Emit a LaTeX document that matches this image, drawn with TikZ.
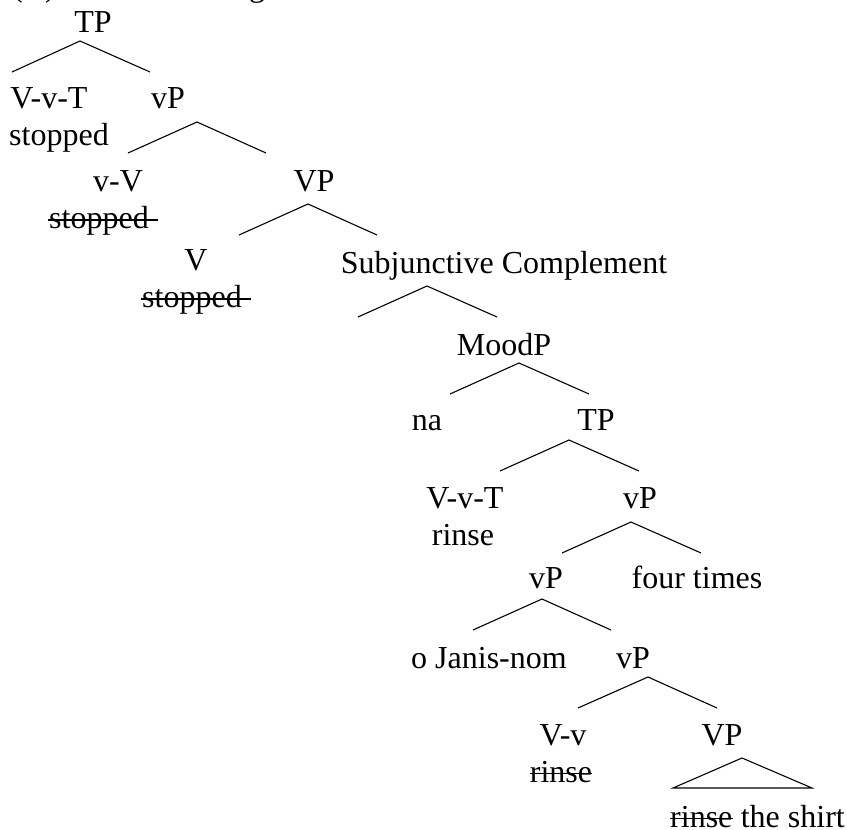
\documentclass[tikz,border=0pt]{standalone}
\usepackage{fontspec}
\setmainfont{Liberation Serif}
\begin{document}
\begin{tikzpicture}[x=1pt,y=-1pt,
  lbl/.style={inner sep=0pt,anchor=base,font=\fontsize{32}{38}\selectfont},
  lblw/.style={lbl,anchor=base west},
  branch/.style={line width=1.1pt},
  strike/.style={line width=1.1pt}]
\useasboundingbox (0,0) rectangle (847,830);

% clipped heading line above the tree: only its descenders remain
\begin{scope}
  \clip (0,0) rectangle (847,3.5);
  \node[lblw] (hdl) at (12,-3.5) {(};
  \node[lblw] (hdr) at (45,-3.5) {)};
  \node[lblw] (hdg) at (249,-4) {g};
\end{scope}

% labels
\node[lbl] (tp1)   at (93,32)  {TP};
\node[lbl] (vvt1)  at (49,108) {V-v-T};
\node[lbl] (stp1)  at (59,145) {stopped};
\node[lbl] (vp1)   at (168,108) {vP};
\node[lbl] (vv)    at (118,191) {v-V};
\node[lbl] (stp2)  at (99,228) {stopped};
\node[lbl] (bigvp1) at (314,191) {VP};
\node[lbl] (v)     at (196,270) {V};
\node[lbl] (stp3)  at (192,307) {stopped};
\node[lbl] (subj)  at (504,273) {Subjunctive Complement};
\node[lbl] (mood)  at (504,355) {MoodP};
\node[lbl] (na)    at (427,430) {na};
\node[lbl] (tp2)   at (596,430) {TP};
\node[lbl] (vvt2)  at (465,508) {V-v-T};
\node[lbl] (rin1)  at (463,545) {rinse};
\node[lbl] (vp2)   at (640,508) {vP};
\node[lbl] (vp3)   at (546,588) {vP};
\node[lbl] (four)  at (697,588) {four times};
\node[lbl] (janis) at (489,668) {o Janis-nom};
\node[lbl] (vp4)   at (633,668) {vP};
\node[lbl] (vvl)   at (563,745) {V-v};
\node[lbl] (rin2)  at (561,782) {rinse};
\node[lbl] (bigvp2) at (722,745) {VP};
\node[lblw] (rin3) at (670,827) {rinse};
\node[lblw] (shirt) at (rin3.base east) {\ the shirt};

% struck-out copies
\draw[strike] ([yshift=8pt,xshift=-1pt]stp2.base west) -- ([yshift=8pt,xshift=9pt]stp2.base east);
\draw[strike] ([yshift=8pt,xshift=-1pt]stp3.base west) -- ([yshift=8pt,xshift=9pt]stp3.base east);
\draw[strike] ([yshift=8.5pt]rin2.base west) -- ([yshift=8.5pt]rin2.base east);
\draw[strike] ([yshift=8.5pt]rin3.base west) -- ([yshift=8.5pt]rin3.base east);

% branch points
\coordinate (a1) at (80,41);  \coordinate (l1) at (12,72);  \coordinate (r1) at (150,72);
\coordinate (a2) at (197,122); \coordinate (l2) at (128,153); \coordinate (r2) at (266,153);
\coordinate (a3) at (308,204); \coordinate (l3) at (239,235); \coordinate (r3) at (377,235);
\coordinate (a4) at (427,286); \coordinate (l4) at (358,317); \coordinate (r4) at (497,317);
\coordinate (a5) at (519,363); \coordinate (l5) at (450,394); \coordinate (r5) at (589,394);
\coordinate (a6) at (569,440); \coordinate (l6) at (500,471); \coordinate (r6) at (639,471);
\coordinate (a7) at (631,522); \coordinate (l7) at (562,553); \coordinate (r7) at (701,553);
\coordinate (a8) at (542,599); \coordinate (l8) at (473,630); \coordinate (r8) at (611,630);
\coordinate (a9) at (648,677); \coordinate (l9) at (578,708); \coordinate (r9) at (717,708);
\coordinate (at) at (742,758); \coordinate (lt) at (673,788); \coordinate (rt) at (812,788);

\foreach \i in {1,...,9}{
  \draw[branch] (l\i) -- (a\i) -- (r\i);
}
\draw[branch] (lt) -- (at) -- (rt) -- cycle;
\end{tikzpicture}
\end{document}
